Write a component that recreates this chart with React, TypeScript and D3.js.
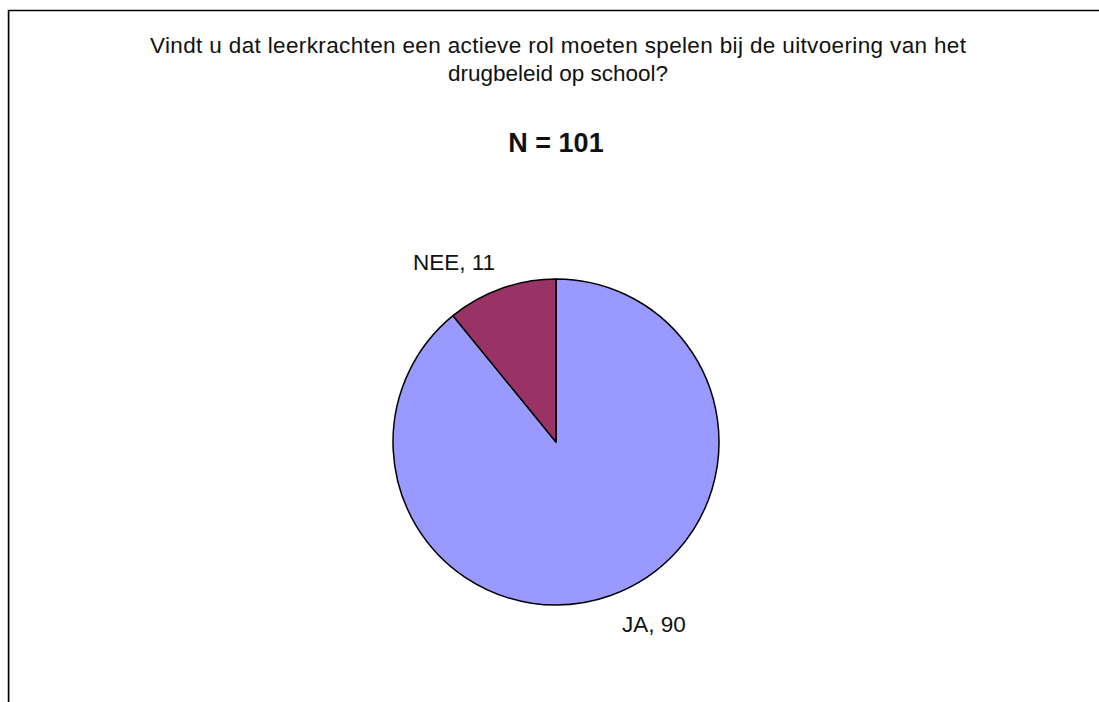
import React from "react";
import * as d3 from "d3";

const categories = ["JA", "NEE"];
const values = [90, 11];
const colors = ["#9999FF", "#993366"];
const titleLines = [
  "Vindt u dat leerkrachten een actieve rol moeten spelen bij de uitvoering van het",
  "drugbeleid op school?",
];
const subtitle = "N = 101";

export default function App() {
  const W = 1099, H = 702;
  const cx = 556, cy = 442, r = 163;
  const data = categories.map((c, i) => ({ c, v: values[i], color: colors[i] }));
  const pie = d3.pie<any>().sort(null).value((d) => d.v);
  const arcs = pie(data);
  const arc = d3.arc<any>().innerRadius(0).outerRadius(r);
  const labelPos = [
    { x: 654, y: 632 },
    { x: 454, y: 270 },
  ];
  return (
    <svg width={W} height={H} style={{ position: "absolute", left: 0, top: 0 }}>
      <rect x={0} y={0} width={W} height={H} fill="#fff" />
      <line x1={9.5} y1={11} x2={9.5} y2={H} stroke="#c0c0c0" strokeWidth={1} />
      <path d={`M8.5,${H} V10.5 H${W}`} fill="none" stroke="#000" strokeWidth={1.5} />
      <g fontFamily="'Liberation Sans', Arial, sans-serif" fill="#111">
        <text x={558} y={53} textAnchor="middle" fontSize={22.5} textLength={816} lengthAdjust="spacing">
          {titleLines[0]}
        </text>
        <text x={558} y={81} textAnchor="middle" fontSize={22.5}>
          {titleLines[1]}
        </text>
        <text x={556} y={152} textAnchor="middle" fontSize={27} fontWeight="bold">
          {subtitle}
        </text>
      </g>
      <g transform={`translate(${cx},${cy})`}>
        {arcs.map((a, i) => (
          <path key={i} d={arc(a) as string} fill={a.data.color} stroke="#000" strokeWidth={1.5} strokeLinejoin="round" />
        ))}
      </g>
      <g fontFamily="'Liberation Sans', Arial, sans-serif" fontSize={22.5} fill="#111">
        {arcs.map((a, i) => (
          <text key={i} x={labelPos[i].x} y={labelPos[i].y} textAnchor="middle">
            {`${a.data.c}, ${a.data.v}`}
          </text>
        ))}
      </g>
    </svg>
  );
}
